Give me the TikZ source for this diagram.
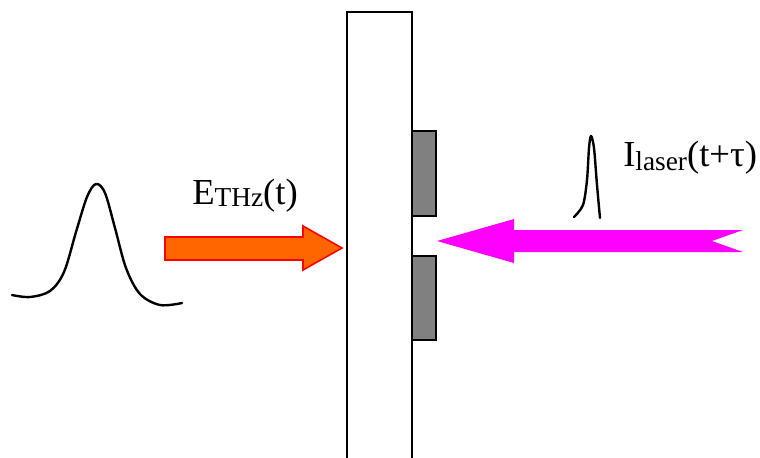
\documentclass[tikz,border=0pt]{standalone}
\usepackage{fontspec}
\setmainfont{Liberation Serif}
\newfontfamily\tnr{Liberation Serif}
\begin{document}
\begin{tikzpicture}[x=0.75pt,y=-0.75pt,
  outline/.style={draw=black,line width=1.7pt},
  electrode/.style={draw=black,fill=black!50,line width=1.7pt},
  pulse/.style={draw=black,line width=1.8pt,line cap=round,line join=round},
  thzarrow/.style={draw=red,fill={rgb,255:red,255;green,102;blue,0},line width=1.2pt,line join=miter},
  laserarrow/.style={fill={rgb,255:red,255;green,0;blue,255}},
  lbl/.style={inner sep=0pt,anchor=base west,font=\tnr\fontsize{27.5}{30}\selectfont}]
\useasboundingbox (0,0) rectangle (760,457);
% slab (open at the bottom)
\draw[outline] (347,458) -- (347,12) -- (412,12) -- (412,458);
% electrodes
\draw[electrode] (412,131) rectangle (436,216);
\draw[electrode] (412,256) rectangle (436,340);
% THz arrow
\draw[thzarrow] (165,237) -- (303,237) -- (303,226) -- (342,248) -- (303,270) -- (303,260) -- (165,260) -- cycle;
% laser arrow
\fill[laserarrow] (437,241) -- (514,219) -- (514,230) -- (743,230) -- (712,241) -- (743,252) -- (514,252) -- (514,263) -- cycle;
% big pulse
\draw[pulse] plot[smooth,tension=0.55] coordinates {(12,295) (30,297) (50,291) (64,272) (76,232) (87,197) (96,184) (105,193) (115,228) (126,268) (140,294) (160,305) (182,303)};
% small pulse
\draw[pulse] plot[smooth,tension=0.5] coordinates {(574,217) (583,205) (587,180) (589,148) (591,136) (594,148) (597,185) (600,218)};
% labels
\node[lbl] (ethz) at (192,204) {E\raisebox{-2pt}{\fontsize{20.5}{22}\selectfont THz}(t)};
\node[lbl] (ilaser) at (623,166) {I\raisebox{-3pt}{\fontsize{20.5}{22}\selectfont laser}(t+τ)};
\end{tikzpicture}
\end{document}
